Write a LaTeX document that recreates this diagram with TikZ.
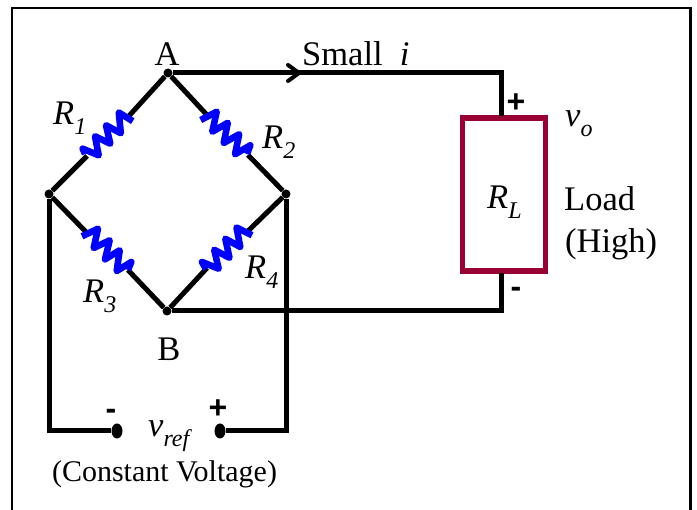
\documentclass[tikz,border=0pt]{standalone}
\usepackage{fontspec}
\setmainfont{Liberation Serif}
\newfontfamily\signfont{Liberation Sans}
\usetikzlibrary{shapes.geometric,arrows.meta}
\definecolor{loadred}{HTML}{990033}
\tikzset{
  wire/.style={line width=5pt,black,line cap=butt,line join=miter},
  res/.style={line width=6.6pt,blue,line join=round,line cap=butt},
  junction/.style={circle,fill=black,inner sep=0pt,minimum size=9pt},
  terminal/.style={ellipse,fill=black,inner sep=0pt,minimum width=11pt,minimum height=15pt},
  loadbox/.style={draw=loadred,line width=5.5pt,fill=white,inner sep=0pt,minimum width=83pt,minimum height=153pt},
  lab/.style={inner sep=0pt,anchor=base west,font=\fontsize{34.5}{38}\selectfont},
  labc/.style={inner sep=0pt,anchor=base,font=\fontsize{34.5}{38}\selectfont},
  capt/.style={inner sep=0pt,anchor=base,font=\fontsize{30}{33}\selectfont},
  sign/.style={inner sep=0pt,anchor=center,font=\fontsize{32}{34}\bfseries\signfont},
  frameline/.style={line width=2.6pt,black}
}
\newcommand{\sym}[2]{\textit{#1}\raisebox{-0.27em}{\fontsize{24}{26}\selectfont\textit{#2}}}
\begin{document}
\begin{tikzpicture}[x=1pt,y=-1pt]
\useasboundingbox (0,0) rectangle (697,510);
\fill[white] (0,0) rectangle (697,510);
% frame
\coordinate (f1) at (12,510);
\coordinate (f2) at (12,8);
\coordinate (f3) at (690.5,8);
\coordinate (f4) at (690.5,510);
\draw[frameline] (f1) -- (f2) -- (f3) -- (f4);
% nodes
\node[junction] (a) at (168,73) {};
\node[junction] (l) at (49,194) {};
\node[junction] (r) at (286,194) {};
\node[junction] (b) at (167,311) {};
\node[terminal] (tm) at (117,431) {};
\node[terminal] (tp) at (220,431) {};
\node[loadbox] (load) at (504,194.5) {};
\coordinate (c1) at (501,73);
\coordinate (c2) at (501,311);
\coordinate (c3) at (49,431);
\coordinate (c4) at (286,431);
\coordinate (lt) at (501,116);
\coordinate (lb) at (501,273);
\coordinate (arrowtip) at (299,73);
% resistor ends
\coordinate (r1a) at (87,156);
\coordinate (r1b) at (128,117);
\coordinate (r2a) at (207,115);
\coordinate (r2b) at (248,155);
\coordinate (r3a) at (87,233);
\coordinate (r3b) at (128,270);
\coordinate (r4a) at (207,268);
\coordinate (r4b) at (248,231);
% wires
\draw[wire] (a) -- (c1) -- (lt);
\draw[wire] (lb) -- (c2) -- (b);
\draw[wire] (l) -- (c3) -- (tm);
\draw[wire] (r) -- (c4) -- (tp);
\draw[wire] (l) -- (r1a);
\draw[wire] (r1b) -- (a);
\draw[wire] (a) -- (r2a);
\draw[wire] (r2b) -- (r);
\draw[wire] (l) -- (r3a);
\draw[wire] (r3b) -- (b);
\draw[wire] (b) -- (r4a);
\draw[wire] (r4b) -- (r);
\draw[line width=4pt,black,line cap=round,line join=miter] (288,65) -- (arrowtip) -- (288,81);
% resistors
\draw[res] (85,154) -- (82.7,148.7) -- (98.7,155.3) -- (95,136.3) -- (110.3,143.7) -- (106,125.3) -- (120.8,133.2) -- (118.8,112.5) -- (132.8,121.2);
\draw[res] (200.7,120) -- (216.7,111.7) -- (212.3,131.7) -- (227.8,122.8) -- (223.7,143) -- (239.2,134.2) -- (235,154.3) -- (250.3,145.3) -- (247,154);
\draw[res] (82,236.3) -- (98,228.7) -- (93.7,248) -- (109.7,240.3) -- (105,259.3) -- (119.7,250.3) -- (116.7,271) -- (131.3,262) -- (128,270);
\draw[res] (206,269) -- (202,262) -- (218.7,268.7) -- (214.2,249.8) -- (229.5,257.8) -- (225.3,238.7) -- (240.3,247) -- (236.5,227.5) -- (252,235.3);
% labels
\node[labc] (la) at (167,65.5) {A};
\node[labc] (lb2) at (169,361) {B};
\node[lab] (small) at (302,65.5) {Small\ \ \textit{i}};
\node[lab] (n1) at (53,125) {\sym{R}{1}};
\node[lab] (n2) at (262,149) {\sym{R}{2}};
\node[lab] (n3) at (83,303) {\sym{R}{3}};
\node[lab] (n4) at (245,279) {\sym{R}{4}};
\node[lab] (nl) at (487,209) {\sym{R}{L}};
\node[lab] (vo) at (565,127) {\sym{v}{o}};
\node[lab] (ld) at (564,211) {Load};
\node[lab] (hi) at (565,253) {(High)};
\node[lab] (vr) at (148,437) {\sym{v}{ref}};
\node[capt] (cv) at (164.5,482) {(Constant V\kern-0.14em oltage)};
\node[sign] (sp) at (516,103) {+};
\node[sign] (sm) at (516,292) {-};
\node[sign] (sp2) at (218,409) {+};
\node[sign] (sm2) at (111,414) {-};
\end{tikzpicture}
\end{document}
